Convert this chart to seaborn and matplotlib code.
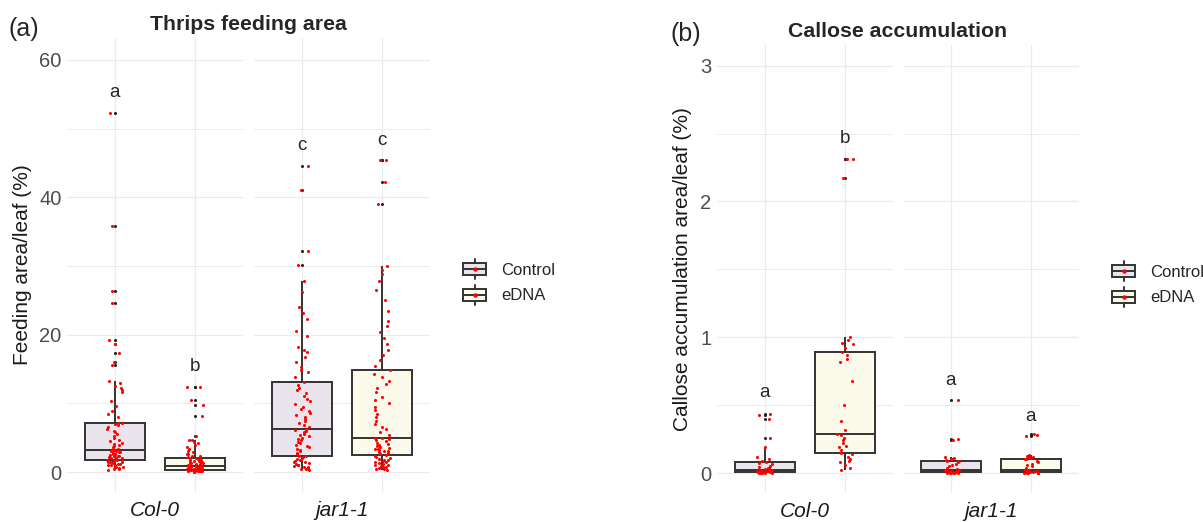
"""Thrips feeding area and callose accumulation boxplots (Col-0 vs jar1-1)."""

import matplotlib

matplotlib.use("Agg")
import matplotlib.pyplot as plt
from matplotlib.legend_handler import HandlerBase
from matplotlib.lines import Line2D
from matplotlib.patches import Patch, Rectangle
import numpy as np
import pandas as pd
import seaborn as sns

GENOTYPES = ["Col-0", "jar1-1"]
TREATMENTS = ["Control", "eDNA"]

# feeding area/leaf (%)
feeding_col0_control = [
    0.3, 0.4, 0.5, 0.6, 0.7, 0.8, 0.9, 1.0, 1.0, 1.1, 1.2, 1.2, 1.3, 1.4, 1.4,
    1.5, 1.5, 1.6, 1.7, 1.7, 1.8, 1.9, 2.0, 2.0, 2.1, 2.2, 2.2, 2.3, 2.4, 2.4,
    2.5, 2.6, 2.6, 2.7, 2.8, 2.9, 2.9, 3.0, 3.1, 3.1, 3.2, 3.3, 3.4, 3.6, 3.8,
    3.9, 4.1, 4.3, 4.5, 4.7, 5.0, 5.2, 5.5, 5.8, 6.0, 6.3, 6.6, 6.8, 7.0, 7.1,
    7.2, 8.0, 8.4, 8.9, 9.6, 10.4, 11.6, 12.0, 12.3, 12.6, 13.0, 13.2, 15.6,
    16.1, 17.3, 18.7, 19.3, 24.6, 26.3, 35.8, 52.3,
]
feeding_col0_edna = [
    0.05, 0.08, 0.1, 0.1, 0.12, 0.15, 0.15, 0.18, 0.2, 0.2, 0.2, 0.22, 0.22,
    0.25, 0.25, 0.25, 0.27, 0.28, 0.28, 0.29, 0.3, 0.32, 0.35, 0.38, 0.4, 0.42,
    0.45, 0.48, 0.5, 0.52, 0.55, 0.58, 0.6, 0.63, 0.66, 0.7, 0.74, 0.78, 0.82,
    0.86, 0.9, 0.95, 1.0, 1.05, 1.1, 1.15, 1.2, 1.25, 1.3, 1.35, 1.4, 1.45,
    1.5, 1.6, 1.65, 1.7, 1.8, 1.9, 1.95, 2.0, 2.1, 2.2, 2.3, 2.4, 2.6, 2.7,
    2.9, 3.1, 3.3, 3.6, 3.9, 4.2, 4.4, 4.6, 4.7, 5.3, 8.2, 9.8, 10.5, 12.4, 12.4,
]
feeding_jar1_control = [
    0.3, 0.4, 0.5, 0.6, 0.7, 0.8, 0.9, 1.0, 1.1, 1.2, 1.3, 1.4, 1.5, 1.6, 1.7,
    1.8, 1.9, 2.0, 2.2, 2.3, 2.4, 2.6, 2.8, 3.0, 3.2, 3.4, 3.6, 3.8, 4.0, 4.2,
    4.4, 4.6, 4.8, 5.0, 5.2, 5.4, 5.6, 5.8, 6.0, 6.1, 6.2, 6.5, 6.8, 7.1, 7.4,
    7.7, 8.0, 8.3, 8.6, 8.9, 9.2, 9.5, 9.9, 10.3, 10.7, 11.1, 11.5, 11.9, 12.3,
    12.7, 13.1, 13.8, 14.5, 14.9, 15.3, 16.0, 16.8, 17.5, 17.8, 18.2, 19.8,
    20.6, 22.3, 23.2, 24.1, 26.2, 27.8, 30.2, 32.2, 41.1, 44.5,
]
feeding_jar1_edna = [
    0.3, 0.4, 0.5, 0.6, 0.7, 0.8, 0.9, 1.0, 1.1, 1.2, 1.3, 1.4, 1.5, 1.6, 1.7,
    1.8, 1.9, 2.0, 2.2, 2.4, 2.5, 2.6, 2.7, 2.8, 2.9, 3.0, 3.1, 3.2, 3.3, 3.4,
    3.5, 3.6, 3.8, 4.0, 4.1, 4.3, 4.5, 4.6, 4.8, 4.9, 5.0, 5.4, 5.8, 6.2, 6.6,
    7.0, 7.5, 8.0, 8.5, 9.0, 9.5, 10.0, 10.5, 11.0, 11.6, 12.2, 12.8, 13.3,
    13.8, 14.3, 14.8, 15.5, 16.3, 17.0, 17.8, 18.6, 19.5, 20.4, 21.3, 22.0,
    23.5, 25.0, 26.5, 27.8, 28.8, 29.4, 30.0, 39.0, 42.2, 45.5, 45.5,
]

# callose accumulation area/leaf (%)
callose_col0_control = [
    0.0, 0.0, 0.0, 0.001, 0.002, 0.003, 0.004, 0.004, 0.005, 0.008, 0.01,
    0.012, 0.015, 0.018, 0.02, 0.023, 0.025, 0.03, 0.035, 0.04, 0.048, 0.055,
    0.065, 0.075, 0.081, 0.09, 0.1, 0.12, 0.19, 0.258, 0.396, 0.43, 0.435,
]
callose_col0_edna = [
    0.02, 0.04, 0.06, 0.08, 0.09, 0.1, 0.12, 0.14, 0.15, 0.17, 0.19, 0.2,
    0.22, 0.24, 0.26, 0.28, 0.29, 0.32, 0.38, 0.5, 0.68, 0.82, 0.84, 0.87,
    0.89, 0.92, 0.95, 0.96, 0.98, 1.0, 2.17, 2.31, 2.31,
]
callose_jar1_control = [
    0.0, 0.0, 0.001, 0.002, 0.002, 0.003, 0.004, 0.004, 0.005, 0.008, 0.01,
    0.012, 0.015, 0.018, 0.02, 0.022, 0.025, 0.03, 0.04, 0.05, 0.06, 0.07,
    0.078, 0.085, 0.088, 0.095, 0.1, 0.105, 0.11, 0.118, 0.24, 0.25, 0.535,
]
callose_jar1_edna = [
    0.0, 0.0, 0.001, 0.001, 0.002, 0.003, 0.003, 0.004, 0.004, 0.008, 0.01,
    0.012, 0.015, 0.018, 0.02, 0.022, 0.025, 0.035, 0.05, 0.06, 0.07, 0.08,
    0.09, 0.1, 0.106, 0.11, 0.115, 0.12, 0.125, 0.13, 0.27, 0.28, 0.29,
]

# significance letters and their heights, [genotype][treatment]
feeding_letters = [["a", "b"], ["c", "c"]]
feeding_letter_y = [[55.3, 15.4], [47.5, 48.3]]
callose_letters = [["a", "b"], ["a", "a"]]
callose_letter_y = [[0.59, 2.46], [0.68, 0.42]]

W, H = 1203, 522
FILLS = {"Control": "#EAE4EE", "eDNA": "#FEFCE8"}
EDGE = "#333333"
GRID = "#EBEBEB"
FONT = ["Liberation Sans", "DejaVu Sans"]


def build_frame(groups):
    rows = []
    for (genotype, treatment), values in groups.items():
        for v in values:
            rows.append({"genotype": genotype, "treatment": treatment, "value": v})
    return pd.DataFrame(rows)


def px_rect(left, top, right, bottom):
    return [left / W, 1 - bottom / H, (right - left) / W, (bottom - top) / H]


class BoxKey(HandlerBase):
    def __init__(self, face):
        super().__init__()
        self.face = face

    def create_artists(self, legend, orig_handle, xdescent, ydescent,
                       width, height, fontsize, trans):
        x0, y0 = -xdescent, -ydescent
        box_h = height * 0.58
        by = y0 + (height - box_h) / 2
        xm = x0 + width / 2
        kw = dict(color=EDGE, lw=1.4, transform=trans)
        return [
            Rectangle((x0, by), width, box_h, facecolor=self.face,
                      edgecolor=EDGE, lw=1.4, transform=trans),
            Line2D([x0, x0 + width], [y0 + height / 2] * 2, **kw),
            Line2D([xm, xm], [by + box_h, y0 + height], **kw),
            Line2D([xm, xm], [y0, by], **kw),
            Line2D([xm], [y0 + height / 2], marker="o", ms=2.2, lw=0,
                   color="red", transform=trans),
        ]


def draw_panel(fig, df, rects, ylim, major, minor, letters, letter_y,
               ylabel, ylabel_x, title, title_xy, tag, tag_xy, legend_xy):
    for i, genotype in enumerate(GENOTYPES):
        ax = fig.add_axes(px_rect(*rects[i]))
        sub = df[df["genotype"] == genotype]
        sns.boxplot(
            data=sub, x="treatment", y="value", hue="treatment",
            order=TREATMENTS, hue_order=TREATMENTS, palette=FILLS,
            width=0.75, linecolor=EDGE, linewidth=1.4, legend=False,
            fliersize=2.2, capprops={"linewidth": 0},
            flierprops={"marker": "o", "markerfacecolor": "#222222",
                        "markeredgecolor": "#222222",
                        "markeredgewidth": 0},
            ax=ax, zorder=2,
        )
        sns.stripplot(
            data=sub, x="treatment", y="value", order=TREATMENTS,
            color="red", size=2.2, jitter=0.1, linewidth=0, ax=ax, zorder=3,
        )
        for j in range(len(TREATMENTS)):
            ax.text(j, letter_y[i][j], letters[i][j], ha="center",
                    va="center", fontsize=13.5, family=FONT)
        ax.set_xlim(-0.6, 1.6)
        ax.set_ylim(*ylim)
        ax.set_yticks(major)
        ax.set_yticks(minor, minor=True)
        ax.set_xticks([0, 1])
        ax.set_xticklabels(["", ""])
        ax.grid(True, which="major", color=GRID, linewidth=0.9, zorder=0)
        ax.grid(True, which="minor", axis="y", color=GRID, linewidth=0.7,
                zorder=0)
        ax.set_axisbelow(True)
        ax.tick_params(axis="both", which="both", length=0)
        ax.tick_params(axis="y", labelsize=14.5, labelcolor="#4D4D4D", pad=4)
        for lab in ax.get_yticklabels():
            lab.set_family(FONT)
        if i > 0:
            ax.set_yticklabels([])
        for spine in ax.spines.values():
            spine.set_visible(False)
        ax.set_ylabel("")
        ax.set_xlabel(genotype, fontsize=15, style="italic", family=FONT,
                      color="#1A1A1A", labelpad=3)

    fig.text(ylabel_x / W, 1 - (rects[0][1] + rects[0][3]) / 2 / H, ylabel,
             rotation=90, ha="center", va="center", fontsize=15, family=FONT,
             color="#1A1A1A")
    fig.text(title_xy[0] / W, 1 - title_xy[1] / H, title, ha="center",
             va="center", fontsize=15.3, fontweight="bold", family=FONT)
    fig.text(tag_xy[0] / W, 1 - tag_xy[1] / H, tag, ha="left", va="center",
             fontsize=18, family=FONT)

    handles = [Patch(label=t) for t in TREATMENTS]
    fig.legend(
        handles=handles, labels=TREATMENTS,
        handler_map={h: BoxKey(FILLS[t]) for h, t in zip(handles, TREATMENTS)},
        loc="center left", bbox_to_anchor=(legend_xy[0] / W, 1 - legend_xy[1] / H),
        frameon=False, borderpad=0, borderaxespad=0,
        handlelength=1.4, handleheight=1.48, labelspacing=0.33,
        handletextpad=0.9, prop={"family": FONT, "size": 12},
    )


feeding = build_frame({
    ("Col-0", "Control"): feeding_col0_control,
    ("Col-0", "eDNA"): feeding_col0_edna,
    ("jar1-1", "Control"): feeding_jar1_control,
    ("jar1-1", "eDNA"): feeding_jar1_edna,
})
callose = build_frame({
    ("Col-0", "Control"): callose_col0_control,
    ("Col-0", "eDNA"): callose_col0_edna,
    ("jar1-1", "Control"): callose_jar1_control,
    ("jar1-1", "eDNA"): callose_jar1_edna,
})

sns.set_theme(style="white")
plt.rcParams["font.family"] = FONT
np.random.seed(7)

fig = plt.figure(figsize=(W / 100, H / 100), dpi=100)
fig.patch.set_facecolor("white")

draw_panel(
    fig, feeding,
    rects=[(67, 38, 243, 492), (254, 38, 430, 492)],
    ylim=(-2.9, 63.2), major=[0, 20, 40, 60], minor=[10, 30, 50],
    letters=feeding_letters, letter_y=feeding_letter_y,
    ylabel="Feeding area/leaf (%)", ylabel_x=23,
    title="Thrips feeding area", title_xy=(248, 25),
    tag="(a)", tag_xy=(9, 29), legend_xy=(463, 282),
)
draw_panel(
    fig, callose,
    rects=[(717, 45, 893, 493), (903, 45, 1079, 493)],
    ylim=(-0.147, 3.152), major=[0, 1, 2, 3], minor=[0.5, 1.5, 2.5],
    letters=callose_letters, letter_y=callose_letter_y,
    ylabel="Callose accumulation area/leaf (%)", ylabel_x=683,
    title="Callose accumulation", title_xy=(898, 31),
    tag="(b)", tag_xy=(671, 34), legend_xy=(1112, 284),
)

fig.savefig("out.png", dpi=100, facecolor="white")
plt.close(fig)
